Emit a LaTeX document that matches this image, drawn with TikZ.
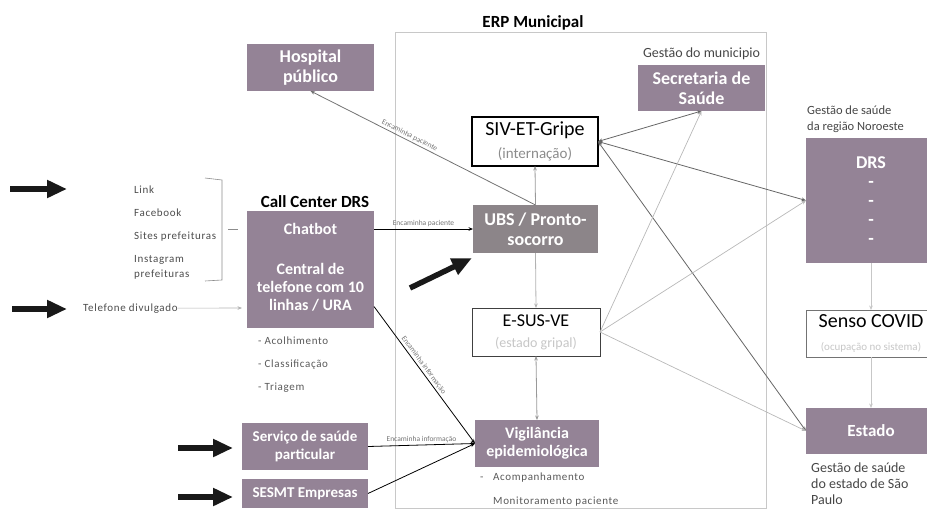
\documentclass[tikz,border=0pt]{standalone}
\usepackage{fontspec}
\setmainfont{Carlito}
\newfontfamily\listfont[LetterSpace=6]{Carlito}
\usetikzlibrary{arrows.meta}
\definecolor{mauve}{RGB}{148,131,150}
\definecolor{ubsgray}{RGB}{140,133,137}
\definecolor{frame}{RGB}{200,200,200}
\definecolor{captxt}{RGB}{70,70,70}
\begin{document}
\begin{tikzpicture}[x=1pt,y=-1pt,
  mbox/.style={fill=mauve, text=white, align=center, inner sep=0pt, outer sep=0pt,
    font=\bfseries\fontsize{16}{18}\selectfont},
  wbox/.style={fill=white, align=center, inner sep=0pt, outer sep=0pt},
  tip/.tip={Stealth[length=4.5pt,width=3.6pt]},
  conn/.style={-tip, line width=0.8pt},
  conn2/.style={tip-tip, line width=0.8pt},
  bigarrow/.style={line width=5.5pt, -{Triangle[length=20pt,width=17pt]}},
  lbl/.style={font=\fontsize{7.5}{8}\selectfont, text=black!55, inner sep=1.5pt},
  listtxt/.style={font=\listfont\fontsize{11}{13}\selectfont, text=black!70, inner sep=0pt},
  captxt/.style={font=\fontsize{14}{16}\selectfont, text=captxt, inner sep=0pt},
  smallcap/.style={font=\fontsize{12.5}{15}\selectfont, text=captxt, inner sep=0pt},
  bullet/.style={font=\listfont\fontsize{11}{13}\selectfont, text=black!65, inner sep=0pt}
]
\useasboundingbox (0,0) rectangle (927,509);
\clip (0,0) rectangle (927,509);

% ERP frame
\draw[frame, line width=0.6pt] (395,32) rectangle (766,508);
\node[font=\bfseries\fontsize{17}{19}\selectfont, anchor=base, inner sep=0pt] (erp) at (533,27) {ERP Municipal};

% Boxes
\node[mbox, font=\bfseries\fontsize{18}{20}\selectfont, minimum width=127pt, minimum height=47pt] (hosp) at (310.5,67.5) {Hospital\\público};
\node[mbox, font=\bfseries\fontsize{18}{20}\selectfont, minimum width=127pt, minimum height=46pt] (sec) at (701.5,88) {Secretaria de\\Saúde};
\node[wbox, draw=black, line width=1.3pt, minimum width=126pt, minimum height=49pt, font=\fontsize{20}{23}\selectfont] (siv) at (535,141.5) {SIV-ET-Gripe\\{\color{black!45}\fontsize{15}{17}\selectfont(internação)}};
\node[mbox, fill=ubsgray, font=\bfseries\fontsize{18}{20}\selectfont, minimum width=125pt, minimum height=48pt] (ubs) at (535.5,229) {UBS / Pronto-\\socorro};
\node[wbox, draw=black!75, line width=1pt, minimum width=128pt, minimum height=48pt, font=\fontsize{18}{21}\selectfont] (esus) at (536,332) {E-SUS-VE\\{\color{black!22}\fontsize{14}{16}\selectfont(estado gripal)}};
\node[mbox, minimum width=124pt, minimum height=47pt] (vig) at (537,443.5) {Vigilância\\epidemiológica};

\node[mbox, font=\bfseries\fontsize{18}{19}\selectfont, minimum width=130pt, minimum height=125pt] (drs) at (871,200.5) {DRS\\-\\-\\-\\-};
\node[wbox, draw=black!55, line width=0.8pt, minimum width=130pt, minimum height=47pt, font=\fontsize{20}{23}\selectfont] (senso) at (871,333.5) {Senso COVID\\{\color{black!22}\fontsize{11}{13}\selectfont(ocupação no sistema)}};
\node[mbox, font=\bfseries\fontsize{17}{19}\selectfont, minimum width=130pt, minimum height=46pt] (estado) at (871,431) {Estado};

\node[font=\bfseries\fontsize{17}{19}\selectfont, anchor=base, inner sep=0pt] (cctitle) at (315,207) {Call Center DRS};
\node[mbox, minimum width=127pt, minimum height=36.5pt] (chatbot) at (310.5,229) {Chatbot};
\node[mbox, minimum width=127pt, minimum height=81pt] (central) at (310.5,287.5) {Central de\\telefone com 10\\linhas / URA};
\node[mbox, font=\bfseries\fontsize{15}{18}\selectfont, minimum width=126pt, minimum height=47pt] (serv) at (305,446.5) {Serviço de saúde\\particular};
\node[mbox, font=\bfseries\fontsize{15}{18}\selectfont, minimum width=126pt, minimum height=29pt] (sesmt) at (305,493.5) {SESMT Empresas};

% captions
\node[captxt, anchor=base] (gmun) at (701.5,57) {Gestão do municipio};
\node[smallcap, anchor=base west] (gr1) at (807,114) {Gestão de saúde};
\node[smallcap, anchor=base west] (gr2) at (807,130) {da região Noroeste};
\node[captxt, anchor=base west] (ge1) at (811,472) {Gestão de saúde};
\node[captxt, anchor=base west] (ge2) at (811,488) {do estado de São};
\node[captxt, anchor=base west] (ge3) at (811,504) {Paulo};

\node[bullet, anchor=base west] (v0) at (480,480) {-};
\node[bullet, anchor=base west] (v1) at (493,480) {Acompanhamento};
\node[bullet, anchor=base west] (v2) at (493,504) {Monitoramento paciente};

\node[bullet, anchor=base west] (c1) at (258,344) {- Acolhimento};
\node[bullet, anchor=base west] (c2) at (258,367) {- Classificação};
\node[bullet, anchor=base west] (c3) at (258,390) {- Triagem};

% channel list
\node[listtxt, anchor=base west] (l1) at (134,193) {Link};
\node[listtxt, anchor=base west] (l2) at (134,216) {Facebook};
\node[listtxt, anchor=base west] (l3) at (134,239) {Sites prefeituras};
\node[listtxt, anchor=base west] (l4) at (134,262) {Instagram};
\node[listtxt, anchor=base west] (l5) at (134,277) {prefeituras};
\draw[black!45, line width=0.6pt] (205,178) -- (222,180) -- (222,280) -- (205,281);
\draw[black!45, line width=0.8pt] (228,229) -- (238,229);

\node[listtxt, anchor=base west] (tel) at (83,311) {Telefone divulgado};
\coordinate (telend) at (242,308);
\draw[conn, black!30, line width=0.6pt] (tel.east) -- (telend);

% big arrows
\coordinate (a1s) at (10,189); \coordinate (a1e) at (67,189);
\coordinate (a2s) at (12,309); \coordinate (a2e) at (67,309);
\coordinate (a3s) at (178,448); \coordinate (a3e) at (233,448);
\coordinate (a4s) at (178,497); \coordinate (a4e) at (233,497);
\coordinate (a5s) at (410,288); \coordinate (a5e) at (472,258);
\foreach \s/\e in {a1s/a1e,a2s/a2e,a3s/a3e,a4s/a4e,a5s/a5e}
  \draw[bigarrow, black!90] (\s) -- (\e);

% connectors
\draw[conn, black!55] (ubs.north) -- node[lbl, sloped, above, pos=0.57] {Encaminha paciente} (hosp.south);
\draw[conn, black!40] (ubs.north) -- (siv.south);
\draw[conn, black] (chatbot.east) -- node[lbl, above] {Encaminha paciente} (ubs.west);
\draw[conn, black!30] (ubs.south) -- (esus.north);
\draw[conn2, black!40] (esus.south) -- (vig.north);
\draw[conn, black] ([yshift=-19pt]central.east) -- node[lbl, sloped, above, pos=0.45] {Encaminha informação} (vig.west);
\draw[conn, black] (serv.east) -- node[lbl, above] {Encaminha informação} (vig.west);
\draw[conn, black] (sesmt.east) -- (vig.west);

\draw[conn2, black!60] (siv.east) -- (sec.south);
\draw[conn2, black!60] (siv.east) -- (drs.west);
\draw[conn2, black!60] (siv.east) -- (estado.west);
\draw[conn, black!28, line width=0.7pt] (esus.east) -- (sec.south);
\draw[conn, black!28, line width=0.7pt] (esus.east) -- (drs.west);
\draw[conn, black!28, line width=0.7pt] (esus.east) -- (estado.west);

\draw[conn, black!22, line width=0.6pt] (drs.south) -- (senso.north);
\draw[conn, black!22, line width=0.6pt] (senso.south) -- (estado.north);
\end{tikzpicture}
\end{document}
